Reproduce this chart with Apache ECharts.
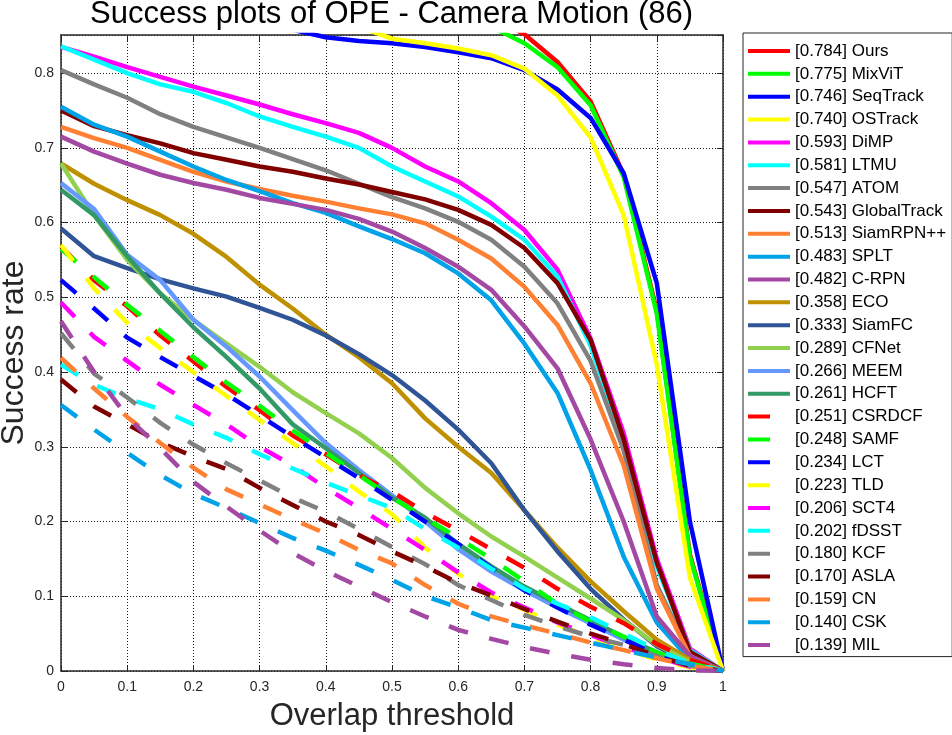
<!DOCTYPE html>
<html>
<head>
<meta charset="utf-8">
<title>Success plots of OPE - Camera Motion (86)</title>
<script src="https://cdn.jsdelivr.net/npm/echarts@6/dist/echarts.min.js"></script>
<style>
  html, body { margin: 0; padding: 0; background: #fff; }
  #chart { width: 952px; height: 735px; }
</style>
</head>
<body>
<div id="chart"></div>
<script>
(function () {
    // Overlap thresholds (x) and the success rate of each tracker at each one.
    var thresholds = [0, 0.05, 0.1, 0.15, 0.2, 0.25, 0.3, 0.35, 0.4, 0.45, 0.5,
                      0.55, 0.6, 0.65, 0.7, 0.75, 0.8, 0.85, 0.9, 0.95, 1];

    var ours        = [0.93, 0.93, 0.93, 0.925, 0.92, 0.92, 0.915, 0.91, 0.905, 0.90, 0.895, 0.89, 0.885, 0.875, 0.852, 0.815, 0.762, 0.664, 0.482, 0.156, 0];
    var mixvit      = [0.92, 0.92, 0.915, 0.915, 0.91, 0.905, 0.90, 0.90, 0.895, 0.89, 0.885, 0.88, 0.875, 0.862, 0.84, 0.808, 0.757, 0.661, 0.478, 0.153, 0];
    var seqtrack    = [0.885, 0.88, 0.875, 0.872, 0.87, 0.868, 0.865, 0.858, 0.848, 0.843, 0.840, 0.835, 0.828, 0.82, 0.804, 0.778, 0.74, 0.666, 0.519, 0.2, 0];
    var ostrack     = [0.90, 0.895, 0.89, 0.885, 0.88, 0.877, 0.875, 0.872, 0.87, 0.862, 0.846, 0.84, 0.833, 0.824, 0.806, 0.77, 0.714, 0.61, 0.41, 0.125, 0];
    var dimp        = [0.835, 0.822, 0.808, 0.795, 0.782, 0.77, 0.758, 0.745, 0.733, 0.72, 0.70, 0.675, 0.655, 0.626, 0.59, 0.537, 0.445, 0.318, 0.15, 0.03, 0];
    var ltmu        = [0.836, 0.818, 0.80, 0.785, 0.775, 0.76, 0.742, 0.728, 0.715, 0.70, 0.675, 0.655, 0.635, 0.608, 0.577, 0.528, 0.435, 0.305, 0.14, 0.028, 0];
    var atom        = [0.804, 0.785, 0.767, 0.745, 0.728, 0.714, 0.70, 0.685, 0.67, 0.652, 0.634, 0.619, 0.601, 0.577, 0.541, 0.492, 0.415, 0.295, 0.115, 0.022, 0];
    var globaltrack = [0.75, 0.729, 0.717, 0.706, 0.693, 0.684, 0.675, 0.668, 0.659, 0.651, 0.641, 0.631, 0.617, 0.597, 0.566, 0.519, 0.443, 0.31, 0.145, 0.026, 0];
    var siamrpnpp   = [0.728, 0.713, 0.70, 0.684, 0.668, 0.655, 0.645, 0.636, 0.628, 0.619, 0.611, 0.599, 0.577, 0.552, 0.514, 0.463, 0.385, 0.275, 0.11, 0.02, 0];
    var splt        = [0.755, 0.731, 0.715, 0.695, 0.675, 0.657, 0.642, 0.626, 0.613, 0.595, 0.578, 0.559, 0.532, 0.496, 0.438, 0.372, 0.269, 0.153, 0.065, 0.015, 0];
    var crpn        = [0.715, 0.695, 0.679, 0.664, 0.653, 0.644, 0.633, 0.625, 0.617, 0.605, 0.588, 0.566, 0.541, 0.51, 0.461, 0.405, 0.31, 0.2, 0.073, 0.02, 0];
    var eco         = [0.679, 0.652, 0.63, 0.61, 0.585, 0.554, 0.517, 0.485, 0.45, 0.42, 0.385, 0.338, 0.30, 0.265, 0.215, 0.165, 0.12, 0.08, 0.042, 0.015, 0];
    var siamfc      = [0.592, 0.555, 0.539, 0.524, 0.512, 0.501, 0.486, 0.47, 0.449, 0.424, 0.396, 0.362, 0.323, 0.278, 0.215, 0.16, 0.11, 0.069, 0.033, 0.01, 0];
    var cfnet       = [0.679, 0.61, 0.55, 0.505, 0.47, 0.438, 0.407, 0.373, 0.345, 0.318, 0.285, 0.245, 0.211, 0.18, 0.153, 0.125, 0.097, 0.068, 0.035, 0.012, 0];
    var meem        = [0.653, 0.618, 0.557, 0.523, 0.47, 0.434, 0.394, 0.349, 0.305, 0.269, 0.235, 0.2, 0.163, 0.133, 0.108, 0.085, 0.064, 0.042, 0.022, 0.007, 0];
    var hcft        = [0.644, 0.61, 0.555, 0.505, 0.46, 0.42, 0.378, 0.33, 0.298, 0.265, 0.232, 0.205, 0.17, 0.14, 0.113, 0.09, 0.068, 0.045, 0.025, 0.008, 0];
    var csrdcf      = [0.568, 0.523, 0.488, 0.449, 0.414, 0.38, 0.349, 0.315, 0.29, 0.262, 0.24, 0.212, 0.188, 0.163, 0.138, 0.11, 0.086, 0.064, 0.036, 0.015, 0];
    var samf        = [0.565, 0.527, 0.49, 0.455, 0.42, 0.386, 0.355, 0.322, 0.292, 0.262, 0.232, 0.205, 0.178, 0.15, 0.12, 0.09, 0.066, 0.046, 0.025, 0.01, 0];
    var lct         = [0.523, 0.485, 0.446, 0.42, 0.395, 0.37, 0.342, 0.313, 0.286, 0.258, 0.229, 0.2, 0.17, 0.138, 0.108, 0.085, 0.062, 0.042, 0.022, 0.008, 0];
    var tld         = [0.57, 0.512, 0.466, 0.432, 0.40, 0.368, 0.336, 0.305, 0.274, 0.24, 0.21, 0.165, 0.13, 0.10, 0.082, 0.062, 0.045, 0.03, 0.015, 0.005, 0];
    var sct4        = [0.493, 0.447, 0.415, 0.383, 0.356, 0.33, 0.30, 0.275, 0.245, 0.218, 0.19, 0.162, 0.132, 0.105, 0.085, 0.065, 0.048, 0.032, 0.018, 0.006, 0];
    var fdsst       = [0.41, 0.383, 0.365, 0.35, 0.33, 0.312, 0.29, 0.271, 0.252, 0.235, 0.218, 0.19, 0.165, 0.137, 0.11, 0.09, 0.072, 0.05, 0.028, 0.01, 0];
    var kcf         = [0.452, 0.398, 0.366, 0.332, 0.303, 0.278, 0.255, 0.232, 0.213, 0.19, 0.166, 0.143, 0.115, 0.095, 0.075, 0.06, 0.046, 0.035, 0.02, 0.007, 0];
    var asla        = [0.39, 0.354, 0.33, 0.306, 0.287, 0.27, 0.245, 0.222, 0.20, 0.182, 0.16, 0.14, 0.118, 0.101, 0.083, 0.066, 0.05, 0.036, 0.02, 0.007, 0];
    var cn          = [0.419, 0.378, 0.34, 0.305, 0.272, 0.243, 0.223, 0.203, 0.184, 0.162, 0.144, 0.115, 0.09, 0.073, 0.061, 0.05, 0.038, 0.028, 0.017, 0.007, 0];
    var csk         = [0.356, 0.323, 0.292, 0.262, 0.237, 0.218, 0.198, 0.178, 0.161, 0.142, 0.122, 0.10, 0.085, 0.068, 0.058, 0.048, 0.038, 0.028, 0.018, 0.009, 0];
    var mil         = [0.468, 0.40, 0.34, 0.298, 0.253, 0.22, 0.188, 0.158, 0.134, 0.113, 0.092, 0.073, 0.055, 0.043, 0.032, 0.023, 0.015, 0.009, 0.004, 0.001, 0];

    // Legend labels (AUC score + tracker), in plotting order.
    var names = ['[0.784] Ours', '[0.775] MixViT', '[0.746] SeqTrack', '[0.740] OSTrack',
                 '[0.593] DiMP', '[0.581] LTMU', '[0.547] ATOM', '[0.543] GlobalTrack',
                 '[0.513] SiamRPN++', '[0.483] SPLT', '[0.482] C-RPN', '[0.358] ECO',
                 '[0.333] SiamFC', '[0.289] CFNet', '[0.266] MEEM', '[0.261] HCFT',
                 '[0.251] CSRDCF', '[0.248] SAMF', '[0.234] LCT', '[0.223] TLD',
                 '[0.206] SCT4', '[0.202] fDSST', '[0.180] KCF', '[0.170] ASLA',
                 '[0.159] CN', '[0.140] CSK', '[0.139] MIL'];
    var values = [ours, mixvit, seqtrack, ostrack, dimp, ltmu, atom, globaltrack,
                  siamrpnpp, splt, crpn, eco, siamfc, cfnet, meem, hcft,
                  csrdcf, samf, lct, tld, sct4, fdsst, kcf, asla, cn, csk, mil];
    var colors = ['#ff0000', '#00ff00', '#0000ff', '#ffff00', '#ff00ff', '#00ffff',
                  '#808080', '#800000', '#ff8033', '#00a2e8', '#a349a4', '#bf9000',
                  '#2f5597', '#92d050', '#6699ff', '#339966',
                  '#ff0000', '#00ff00', '#0000ff', '#ffff00', '#ff00ff', '#00ffff',
                  '#808080', '#800000', '#ff8033', '#00a2e8', '#a349a4'];
    var dashed = [false, false, false, false, false, false, false, false,
                  false, false, false, false, false, false, false, false,
                  true, true, true, true, true, true, true, true, true, true, true];

    var FONT = '"Liberation Sans", Helvetica, Arial, sans-serif';
    var INK = '#262626';
    var TITLE = 'Success plots of OPE - Camera Motion (86)';

    var series = names.map(function (name, i) {
        return {
            name: name,
            type: 'line',
            data: thresholds.map(function (t, k) { return [t, values[i][k]]; }),
            symbol: 'none',
            showSymbol: false,
            silent: true,
            clip: true,
            itemStyle: { color: colors[i] },
            lineStyle: {
                color: colors[i],
                width: 4.5,
                type: dashed[i] ? [20, 22] : 'solid',
                cap: 'butt',
                join: 'round'
            },
            emphasis: { disabled: true }
        };
    });

    // Solid trackers get a full bar, dashed ones a single short dash.
    var legendData = names.map(function (name, i) {
        return {
            name: name,
            icon: dashed[i] ? 'path://M0,0H22V4H0ZM42,0' : 'rect'
        };
    });

    function boxAxis(extra) {
        return Object.assign({
            type: 'value',
            axisLine: { show: true, onZero: false, lineStyle: { color: INK, width: 1.5 } },
            axisTick: { show: true, inside: true, length: 6, lineStyle: { color: INK, width: 1 } },
            axisLabel: { show: false },
            splitLine: { show: false }
        }, extra);
    }

    var chart = echarts.init(document.getElementById('chart'), null, { renderer: 'canvas' });
    chart.setOption({
        animation: false,
        backgroundColor: '#fff',
        textStyle: { fontFamily: FONT },
        // Centred over the plot area, not the whole canvas.
        title: {
            text: TITLE,
            left: 391.6,
            top: -1,
            textAlign: 'center',
            padding: 0,
            textStyle: { fontSize: 31, fontWeight: 'normal', color: '#000', fontFamily: FONT }
        },
        grid: { left: 61, right: 229, top: 35, bottom: 64, containLabel: false, outerBoundsMode: 'none' },
        legend: {
            orient: 'vertical',
            left: 743,
            top: 33,
            padding: [9.5, 6, 3, 5],
            itemWidth: 42,
            itemHeight: 4,
            itemGap: 5.85,
            borderColor: INK,
            borderWidth: 1,
            backgroundColor: '#fff',
            selectedMode: false,
            itemStyle: { borderWidth: 0 },
            textStyle: { fontSize: 17, lineHeight: 17, color: '#000', fontFamily: FONT },
            data: legendData
        },
        xAxis: [
            boxAxis({
                min: 0, max: 1, interval: 0.1, position: 'bottom',
                axisLabel: { show: true, color: INK, fontSize: 14, margin: 9, fontFamily: FONT },
                splitLine: { show: true, lineStyle: { color: '#1a1a1a', width: 1, type: [1, 2] } },
                name: 'Overlap threshold',
                nameLocation: 'middle',
                nameGap: 30,
                nameMoveOverlap: false,
                nameTextStyle: { fontSize: 31, color: INK, fontFamily: FONT }
            }),
            boxAxis({ min: 0, max: 1, interval: 0.1, position: 'top' })
        ],
        yAxis: [
            boxAxis({
                min: 0, max: 0.851, interval: 0.1, position: 'left',
                axisLabel: { show: true, color: INK, fontSize: 14, margin: 7, fontFamily: FONT, showMaxLabel: false },
                splitLine: { show: true, lineStyle: { color: '#1a1a1a', width: 1, type: [1, 2] } },
                name: 'Success rate',
                nameLocation: 'middle',
                nameGap: 31,
                nameMoveOverlap: false,
                nameTextStyle: { fontSize: 32, color: INK, fontFamily: FONT }
            }),
            boxAxis({ min: 0, max: 0.851, interval: 0.1, position: 'right' })
        ],
        series: series
    });

    window.addEventListener('resize', function () { chart.resize(); });
})();
</script>
</body>
</html>
